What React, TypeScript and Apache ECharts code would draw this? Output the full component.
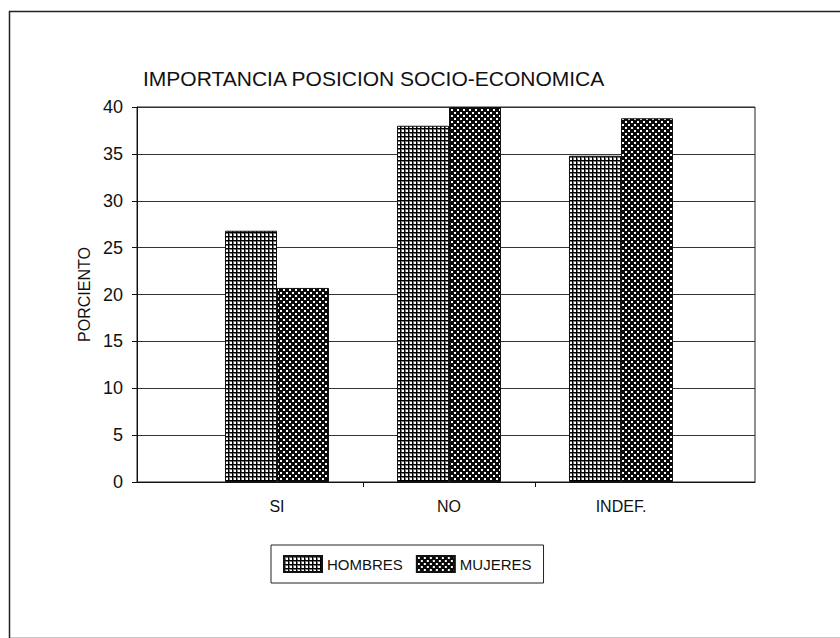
import React, { useEffect, useRef } from 'react';
import * as echarts from 'echarts';

const titleText = 'IMPORTANCIA POSICION SOCIO-ECONOMICA';
const yAxisName = 'PORCIENTO';
const categories = ['SI', 'NO', 'INDEF.'];
const seriesNames = ['HOMBRES', 'MUJERES'];
const hombres = [26.8, 38.0, 34.8];
const mujeres = [20.7, 40.0, 38.8];
const yMin = 0;
const yMax = 40;
const yInterval = 5;
const boundarySlots = ['b0', 'b1', 'b2', 'b3'];

const FONT = '"Liberation Sans", Arial, sans-serif';
const INK = '#111';

function makePattern(kind: 'grid' | 'dots'): HTMLCanvasElement {
  const c = document.createElement('canvas');
  const ctx = c.getContext('2d') as CanvasRenderingContext2D;
  if (kind === 'grid') {
    c.width = 4;
    c.height = 4;
    ctx.fillStyle = '#ffffff';
    ctx.fillRect(0, 0, 4, 4);
    ctx.fillStyle = '#777777';
    ctx.fillRect(0, 1, 4, 1);
    ctx.fillRect(1, 0, 1, 4);
    ctx.fillStyle = '#000000';
    ctx.fillRect(0, 0, 4, 1);
    ctx.fillRect(0, 0, 1, 4);
  } else {
    c.width = 6;
    c.height = 6;
    ctx.fillStyle = '#0a0a0a';
    ctx.fillRect(0, 0, 6, 6);
    ctx.fillStyle = '#ffffff';
    ctx.fillRect(1, 1, 2, 2);
    ctx.fillRect(4, 4, 2, 2);
  }
  return c;
}

export default function App() {
  const ref = useRef<HTMLDivElement>(null);
  useEffect(() => {
    document.body.style.margin = '0';
    if (!ref.current) return;
    const chart = echarts.init(ref.current, null, { renderer: 'svg' });
    const gridPat = { image: makePattern('grid'), repeat: 'repeat' };
    const dotPat = { image: makePattern('dots'), repeat: 'repeat' };
    const option: any = {
      animation: false,
      backgroundColor: '#ffffff',
      title: {
        text: titleText,
        left: 143,
        top: 68,
        padding: 0,
        textStyle: { fontFamily: FONT, fontSize: 21, fontWeight: 'normal', color: INK },
      },
      graphic: [
        {
          type: 'rect',
          left: 7,
          top: 9,
          shape: { width: 840, height: 627 },
          style: { fill: 'none', stroke: '#222', lineWidth: 1.5 },
          silent: true,
          z: -1,
        },
      ],
      legend: {
        data: seriesNames,
        left: 271,
        top: 545,
        padding: [10, 12],
        itemWidth: 38,
        itemHeight: 16,
        itemGap: 13,
        icon: 'rect',
        borderColor: '#222',
        borderWidth: 1,
        textStyle: { fontFamily: FONT, fontSize: 15, color: INK },
      },
      grid: [
        { left: 137, right: 85, top: 107, bottom: 156, show: true, borderColor: '#222', borderWidth: 1, backgroundColor: 'transparent' },
        { left: 191, right: 133, top: 107, bottom: 156 },
        { left: 191, right: 133, top: 107, bottom: 156 },
      ],
      xAxis: [
        {
          gridIndex: 0,
          type: 'value',
          min: 0,
          max: 1,
          axisLine: { show: true, lineStyle: { color: INK, width: 1 } },
          axisTick: { show: false },
          axisLabel: { show: false },
          splitLine: { show: false },
        },
        {
          gridIndex: 1,
          type: 'category',
          data: categories,
          axisLine: { show: false },
          axisTick: { show: false },
          axisLabel: { fontFamily: FONT, fontSize: 16, color: INK, margin: 16 },
        },
        {
          gridIndex: 2,
          type: 'category',
          boundaryGap: false,
          data: boundarySlots,
          axisLine: { show: false },
          axisLabel: { show: false },
          axisTick: {
            show: true,
            length: 5,
            interval: (i: number) => i === 1 || i === 2,
            lineStyle: { color: INK, width: 1 },
          },
        },
      ],
      yAxis: [
        {
          gridIndex: 0,
          type: 'value',
          min: yMin,
          max: yMax,
          interval: yInterval,
          name: yAxisName,
          nameLocation: 'middle',
          nameGap: 34,
          nameTextStyle: { fontFamily: FONT, fontSize: 16, color: INK },
          axisLine: { show: true, lineStyle: { color: INK, width: 1 } },
          axisTick: { show: true, length: 5, lineStyle: { color: INK, width: 1 } },
          axisLabel: { fontFamily: FONT, fontSize: 18, color: INK, margin: 14 },
          splitLine: { show: true, lineStyle: { color: '#333', width: 1 } },
        },
        { gridIndex: 1, type: 'value', min: yMin, max: yMax, show: false },
        { gridIndex: 2, type: 'value', min: yMin, max: yMax, show: false },
      ],
      series: [
        {
          name: seriesNames[0],
          type: 'bar',
          xAxisIndex: 1,
          yAxisIndex: 1,
          data: hombres,
          barWidth: 52,
          barGap: '0%',
          itemStyle: { color: gridPat, borderColor: '#111', borderWidth: 1 },
        },
        {
          name: seriesNames[1],
          type: 'bar',
          xAxisIndex: 1,
          yAxisIndex: 1,
          data: mujeres,
          barWidth: 52,
          barGap: '0%',
          itemStyle: { color: dotPat, borderColor: '#111', borderWidth: 1 },
        },
      ],
    };
    chart.setOption(option);
    return () => chart.dispose();
  }, []);
  return <div ref={ref} style={{ width: 840, height: 638 }} />;
}
